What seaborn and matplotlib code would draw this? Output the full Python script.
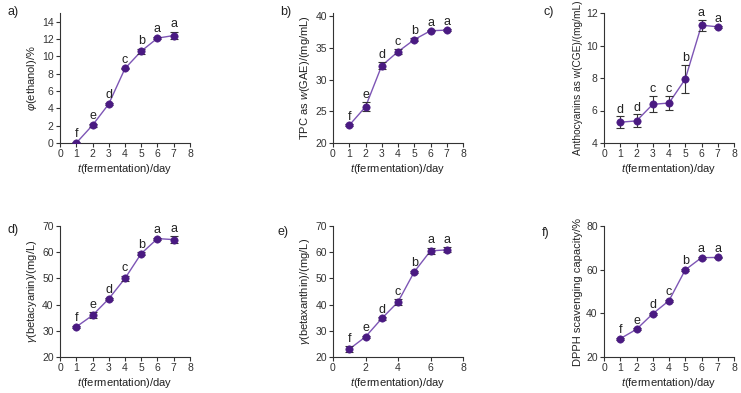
import matplotlib
matplotlib.use("Agg")
import matplotlib.pyplot as plt
import seaborn as sns
import pandas as pd

days = [1, 2, 3, 4, 5, 6, 7]

ethanol = [0.0, 2.05, 4.5, 8.6, 10.6, 12.1, 12.4]
ethanol_err = [0.1, 0.15, 0.1, 0.1, 0.3, 0.15, 0.4]
ethanol_sig = ["f", "e", "d", "c", "b", "a", "a"]

tpc = [22.8, 25.7, 32.2, 34.4, 36.3, 37.7, 37.8]
tpc_err = [0.15, 0.7, 0.5, 0.4, 0.2, 0.1, 0.1]
tpc_sig = ["f", "e", "d", "c", "b", "a", "a"]

antho = [5.28, 5.36, 6.38, 6.46, 7.93, 11.25, 11.15]
antho_err = [0.36, 0.4, 0.5, 0.42, 0.87, 0.33, 0.08]
antho_sig = ["d", "d", "c", "c", "b", "a", "a"]

betacyanin = [31.5, 35.9, 42.2, 50.0, 59.5, 65.2, 64.8]
betacyanin_err = [0.5, 1.2, 0.5, 1.0, 0.5, 0.4, 1.2]
betacyanin_sig = ["f", "e", "d", "c", "b", "a", "a"]

betaxanthin = [23.0, 27.7, 34.7, 41.0, 52.5, 60.5, 60.9]
betaxanthin_err = [1.2, 0.5, 0.5, 1.0, 0.4, 1.2, 1.0]
betaxanthin_sig = ["f", "e", "d", "c", "b", "a", "a"]

dpph = [28.4, 32.7, 39.8, 45.8, 59.9, 65.5, 65.6]
dpph_err = [0.4, 0.4, 0.4, 0.5, 0.5, 0.4, 0.4]
dpph_sig = ["f", "e", "d", "c", "b", "a", "a"]

line_color = "#7d55b5"
marker_color = "#4a1a82"
xlabel = "$\\it{t}$(fermentation)/day"


def draw_panel(fig, rect, values, errors, letters, ylabel, ylim, yticks, xticks, tag, tag_pos, offset, ylabel_size=8):
    ax = fig.add_axes(rect)
    data = pd.DataFrame({"day": days, "value": values})
    sns.lineplot(data=data, x="day", y="value", ax=ax, color=line_color, lw=1.0)
    ax.errorbar(days, values, yerr=errors, fmt="none", ecolor="#333333", elinewidth=0.8, capsize=3, capthick=0.8)
    sns.scatterplot(data=data, x="day", y="value", ax=ax, color=marker_color, s=28, edgecolor=marker_color, zorder=5)
    for d, v, e, s in zip(days, values, errors, letters):
        ax.text(d, v + e + offset, s, ha="center", va="bottom", fontsize=9, color="#222222")
    ax.set_xlim(0, 8)
    ax.set_xticks(xticks)
    ax.set_ylim(*ylim)
    ax.set_yticks(yticks)
    ax.set_xlabel(xlabel, fontsize=8, color="#222222", labelpad=2)
    ax.set_ylabel(ylabel, fontsize=ylabel_size, color="#222222", labelpad=2)
    ax.tick_params(labelsize=7.5, length=3, width=0.8, colors="#333333", pad=1.5)
    for side in ["top", "right"]:
        ax.spines[side].set_visible(False)
    for side in ["left", "bottom"]:
        ax.spines[side].set_color("#333333")
        ax.spines[side].set_linewidth(0.8)
    fig.text(tag_pos[0] / 741, 1 - tag_pos[1] / 393, tag, fontsize=9, ha="left", va="center", color="#222222")
    return ax


def main():
    sns.set_theme(style="ticks")
    plt.rcParams["font.family"] = ["Liberation Sans", "DejaVu Sans"]
    plt.rcParams["mathtext.fontset"] = "custom"
    plt.rcParams["mathtext.it"] = "Liberation Sans:italic"
    plt.rcParams["mathtext.rm"] = "Liberation Sans"

    fig = plt.figure(figsize=(7.41, 3.93), dpi=100)
    lefts = [60 / 741, 333 / 741, 604 / 741]
    w = 130 / 741
    top_b, top_h = 1 - 143 / 393, 130 / 393
    bot_b, bot_h = 1 - 357 / 393, 131 / 393

    draw_panel(fig, [lefts[0], top_b, w, top_h], ethanol, ethanol_err, ethanol_sig,
               "$\\it{\\varphi}$(ethanol)/%", (0, 15), range(0, 15, 2), range(0, 9), "a)", (8, 12), 0.2)
    draw_panel(fig, [lefts[1], top_b, w, top_h], tpc, tpc_err, tpc_sig,
               "TPC as $\\it{w}$(GAE)/(mg/mL)", (20, 40.5), range(20, 41, 5), range(0, 9), "b)", (280, 12), 0.2)
    draw_panel(fig, [lefts[2], top_b, w, top_h], antho, antho_err, antho_sig,
               "Anthocyanins as w(CGE)/(mg/mL)", (4, 12), range(4, 13, 2), range(0, 9), "c)", (543, 12), 0.05,
               ylabel_size=7.3)
    draw_panel(fig, [lefts[0], bot_b, w, bot_h], betacyanin, betacyanin_err, betacyanin_sig,
               "$\\it{\\gamma}$(betacyanin)/(mg/L)", (20, 70), range(20, 71, 10), range(0, 9), "d)", (8, 230), 0.5)
    draw_panel(fig, [lefts[1], bot_b, w, bot_h], betaxanthin, betaxanthin_err, betaxanthin_sig,
               "$\\it{\\gamma}$(betaxanthin)/(mg/L)", (20, 70), range(20, 71, 10), range(0, 9, 2), "e)", (278, 232), 0.5)
    draw_panel(fig, [lefts[2], bot_b, w, bot_h], dpph, dpph_err, dpph_sig,
               "DPPH scavenging capacity/%", (20, 80), range(20, 81, 20), range(0, 9), "f)", (542, 233), 0.8)

    fig.savefig("out.png", dpi=100)
    plt.close(fig)


if __name__ == "__main__":
    main()
